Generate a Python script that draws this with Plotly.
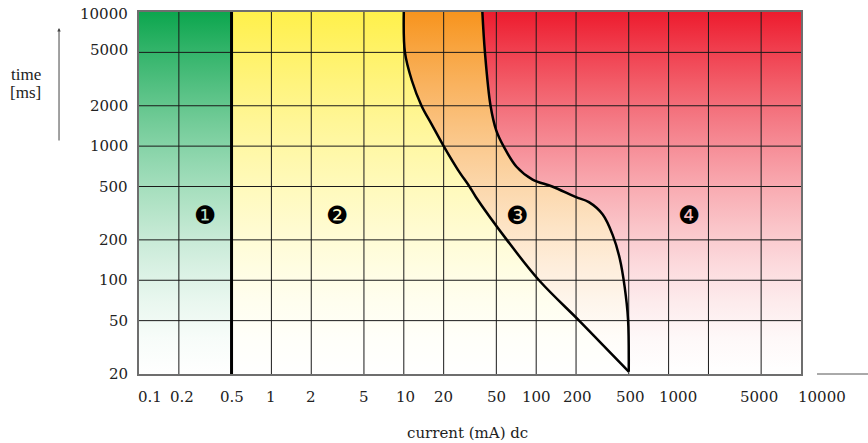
import numpy as np
import plotly.graph_objects as go

# ---------------- data ----------------
x_tick_values = [0.1, 0.2, 0.5, 1, 2, 5, 10, 20, 50, 100, 200, 500, 1000, 5000, 10000]
x_tick_labels = ["0.1", "0.2", "0.5", "1", "2", "5", "10", "20",
                 "50", "100", "200", "500", "1000", "5000", "10000"]
x_grid_values = [0.2, 0.5, 1, 2, 5, 10, 20, 50, 100, 200, 500, 1000, 2000, 5000]
y_tick_values = [20, 50, 100, 200, 500, 1000, 2000, 5000, 10000]
y_tick_labels = ["20", "50", "100", "200", "500", "1000", "2000", "5000", "10000"]
y_grid_values = [50, 100, 200, 500, 1000, 2000, 5000]

x_min, x_max = 0.1, 10000
y_min, y_max = 20, 10000

# boundary between zone 1 and zone 2
boundary_12_current = 0.5
# boundary between zone 2 and zone 3 (bottom -> top)
curve_a_current = [500, 318, 211, 105, 60, 35, 31.3, 25.7, 20, 16.2, 13.6, 11.5, 10.2, 10]
curve_a_time = [20.8, 33, 50, 100, 200, 418, 500, 663, 1000, 1458, 2000, 3085, 5000, 10000]
# boundary between zone 3 and zone 4 (bottom -> top)
curve_b_current = [500, 494, 466, 427, 379, 318, 250, 198, 132, 93.9, 71, 56.6, 49.9, 45.2, 41.0, 39.2]
curve_b_time = [20.8, 51, 88.9, 146, 216, 309, 382, 418, 500, 563, 702, 1000, 1311, 2000, 5000, 10000]

zone_labels = ["\u2776", "\u2777", "\u2778", "\u2779"]
zone_label_current = [0.314, 3.15, 71, 1428]
zone_label_time = [305, 305, 305, 305]

# ---------------- styles ----------------
# nudges (px) of tick labels, as in the original artwork
x_label_nudge = [11, 3, 0, 0, 0, 0, 2, 0, 0, 0, 1, 2, 9, -2, 21]
y_label_nudge = [0, 0, 0, 0, 0, 0, 0, 2, -2]

GREEN = (12, 166, 78)
YELLOW = (255, 240, 75)
ORANGE = (247, 148, 30)
RED = (237, 28, 46)


def ramp(rgb, gamma=1.5):
    stops = []
    for t in np.linspace(0, 1, 11):
        m = t ** gamma
        c = [int(round(255 + (v - 255) * m)) for v in rgb]
        stops.append([float(t), f"rgb({c[0]},{c[1]},{c[2]})"])
    return stops


fig = go.Figure()
common = dict(mode="lines", hoverinfo="skip", showlegend=False)

# left edge (base for zone 1 fill)
fig.add_trace(go.Scatter(x=[x_min, x_min], y=[y_min, y_max], line=dict(width=0), **common))
# zone 1
fig.add_trace(go.Scatter(x=[boundary_12_current, boundary_12_current], y=[y_min, y_max],
                         fill="tonextx", fillgradient=dict(type="vertical", colorscale=ramp(GREEN)),
                         line=dict(width=0), **common))
# zone 2
fig.add_trace(go.Scatter(x=curve_a_current, y=curve_a_time,
                         fill="tonextx", fillgradient=dict(type="vertical", colorscale=ramp(YELLOW)),
                         line=dict(width=0, shape="spline"), **common))
# zone 3
fig.add_trace(go.Scatter(x=curve_b_current, y=curve_b_time,
                         fill="tonextx", fillgradient=dict(type="vertical", colorscale=ramp(ORANGE)),
                         line=dict(width=0, shape="spline"), **common))
# zone 4
fig.add_trace(go.Scatter(x=[x_max, x_max], y=[y_min, y_max],
                         fill="tonextx", fillgradient=dict(type="vertical", colorscale=ramp(RED)),
                         line=dict(width=0), **common))

# grid drawn above fills
gx, gy = [], []
for v in x_grid_values:
    gx += [v, v, None]
    gy += [y_min, y_max, None]
for v in y_grid_values:
    gx += [x_min, x_max, None]
    gy += [v, v, None]
fig.add_trace(go.Scatter(x=gx, y=gy, line=dict(color="#1a1a1a", width=1), **common))

# boundary lines
fig.add_trace(go.Scatter(x=[boundary_12_current, boundary_12_current], y=[y_min, y_max],
                         line=dict(color="black", width=3), **common))
fig.add_trace(go.Scatter(x=curve_a_current, y=curve_a_time,
                         line=dict(color="black", width=2.5, shape="spline"), **common))
fig.add_trace(go.Scatter(x=curve_b_current, y=curve_b_time,
                         line=dict(color="black", width=2.5, shape="spline"), **common))

tick_font = dict(family="DejaVu Serif", size=15, color="#222222")
label_font = dict(family="Liberation Serif", size=17, color="#222222")

annotations = []
for lab, cx, ty in zip(zone_labels, zone_label_current, zone_label_time):
    annotations.append(dict(x=np.log10(cx), y=np.log10(ty), xref="x", yref="y", text=lab,
                            showarrow=False, xanchor="center", yanchor="middle",
                            font=dict(family="DejaVu Sans", size=25, color="black")))

# x tick labels (placed on the axis scale)
for v, lab, dx in zip(x_tick_values, x_tick_labels, x_label_nudge):
    annotations.append(dict(x=np.log10(v), y=-0.0635, xref="x", yref="paper", text=lab,
                            showarrow=False, xshift=dx, xanchor="center", yanchor="middle",
                            font=tick_font))

# y tick labels (placed on the axis scale)
for v, lab, dy in zip(y_tick_values, y_tick_labels, y_label_nudge):
    annotations.append(dict(x=0, y=np.log10(v), xref="paper", yref="y", text=lab,
                            showarrow=False, xshift=-9, yshift=dy, xanchor="right", yanchor="middle",
                            font=tick_font))

# axis annotations
annotations += [
    dict(x=-0.1707, y=0.826, xref="paper", yref="paper", text="time", showarrow=False,
         xanchor="center", yanchor="middle", font=label_font),
    dict(x=-0.1707, y=0.777, xref="paper", yref="paper", text="[ms]", showarrow=False,
         xanchor="center", yanchor="middle", font=label_font),
    dict(x=-0.1208, y=0.9558, xref="paper", yref="paper", text="", showarrow=True,
         ax=0, ay=114, arrowhead=2, arrowsize=0.7, arrowwidth=1, arrowcolor="#444444"),
    dict(x=0.4955, y=-0.163, xref="paper", yref="paper", text="current (mA) dc", showarrow=False,
         xanchor="center", yanchor="middle", font=tick_font),
]

fig.update_layout(
    width=868, height=443,
    margin=dict(l=139, r=67, t=12, b=69, autoexpand=False),
    paper_bgcolor="white", plot_bgcolor="white",
    xaxis=dict(type="log", range=[np.log10(x_min), np.log10(x_max)], showgrid=False, zeroline=False,
               tickvals=x_tick_values, showticklabels=False, ticks="", automargin=False,
               showline=True, mirror=True, linecolor="#6e6e6e", linewidth=2, layer="above traces"),
    yaxis=dict(type="log", range=[np.log10(y_min), np.log10(y_max)], showgrid=False, zeroline=False,
               tickvals=y_tick_values, showticklabels=False, ticks="", automargin=False,
               showline=True, mirror=True, linecolor="#6e6e6e", linewidth=2, layer="above traces"),
    annotations=annotations,
    shapes=[dict(type="line", xref="paper", yref="paper", x0=1.0242, x1=1.1012, y0=0, y1=0,
                 line=dict(color="#555555", width=1))],
    hovermode=False,
)

fig.write_html("out.html",
               config={"displayModeBar": False, "staticPlot": True},
               post_script="document.body.style.margin='0px';document.body.style.overflow='hidden';")
